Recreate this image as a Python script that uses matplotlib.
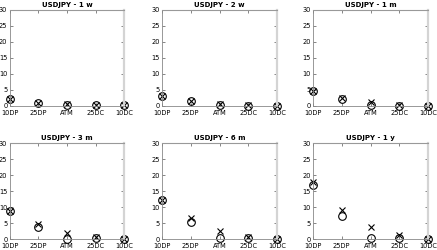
import matplotlib
matplotlib.use("Agg")
import matplotlib.pyplot as plt

strikes = ["10DP", "25DP", "ATM", "25DC", "10DC"]
tenors = ["1 w", "2 w", "1 m", "3 m", "6 m", "1 y"]

# circles (market) and crosses (model), one list per tenor
vol_circle = [
    [2.2, 1.0, 0.3, 0.2, 0.2],
    [3.2, 1.6, 0.2, 0.1, 0.1],
    [4.8, 2.2, 0.2, 0.1, 0.1],
    [8.6, 3.6, 0.1, 0.3, 0.1],
    [12.3, 5.2, 0.2, 0.2, 0.1],
    [16.8, 7.1, 0.2, 0.2, 0.1],
]
vol_cross = [
    [2.3, 1.0, 0.5, 0.2, 0.2],
    [3.2, 1.6, 0.7, 0.2, 0.1],
    [4.8, 2.5, 1.3, 0.2, 0.1],
    [8.6, 4.7, 1.8, 0.6, 0.1],
    [12.3, 6.5, 2.5, 0.7, 0.1],
    [17.7, 9.1, 3.6, 1.2, 0.1],
]

fig = plt.figure(figsize=(4.37, 2.5), dpi=100)

lefts = [9.5, 162, 313]
bottoms = [106, 239]
w, h = 115, 96

xs = list(range(1, len(strikes) + 1))
for i, tenor in enumerate(tenors):
    r, c = divmod(i, 3)
    ax = fig.add_axes([lefts[c] / 437, 1 - bottoms[r] / 250, w / 437, h / 250])
    ax.plot(xs, vol_circle[i], linestyle="none", marker="o", markersize=5.5,
            markerfacecolor="none", markeredgecolor="black", markeredgewidth=0.8, clip_on=False)
    ax.plot(xs, vol_cross[i], linestyle="none", marker="x", markersize=4.5,
            color="black", markeredgewidth=0.8, clip_on=False)
    ax.set_xlim(1, 5)
    ax.set_ylim(0, 30)
    ax.set_xticks(xs)
    ax.set_xticklabels(strikes)
    ax.set_yticks(range(0, 31, 5))
    ax.tick_params(direction="in", length=2, width=0.5, labelsize=4.8,
                   top=True, right=True, pad=1.5, colors="#555555", labelcolor="black")
    ax.tick_params(axis="x", pad=3)
    for s in ["left", "bottom"]:
        ax.spines[s].set_color("#888888")
        ax.spines[s].set_linewidth(0.6)
    ax.spines["top"].set_color("#999999")
    ax.spines["top"].set_linewidth(0.8)
    ax.spines["right"].set_color("#d4d4d4")
    ax.spines["right"].set_linewidth(1.6)
    ax.set_title("USDJPY - " + tenor, fontsize=5, fontweight="bold", pad=2)

fig.savefig("out.png", dpi=100)
